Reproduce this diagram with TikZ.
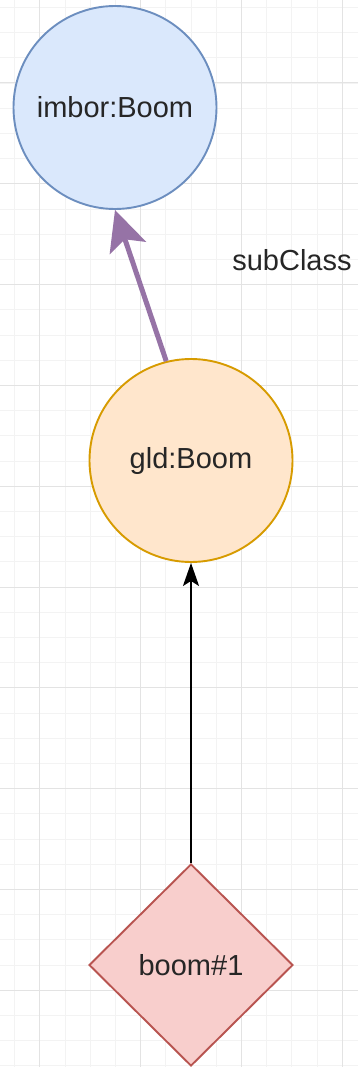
\documentclass[tikz,border=0pt]{standalone}
\usepackage{fontspec}
\setmainfont{Liberation Sans}
\usetikzlibrary{shapes.geometric,arrows.meta}
\definecolor{gridminor}{HTML}{F3F3F3}
\definecolor{gridmajor}{HTML}{E3E3E3}
\definecolor{bluefill}{HTML}{DAE8FC}
\definecolor{bluedraw}{HTML}{6C8EBF}
\definecolor{orangefill}{HTML}{FFE6CC}
\definecolor{orangedraw}{HTML}{D79B00}
\definecolor{redfill}{HTML}{F8CECC}
\definecolor{reddraw}{HTML}{B85450}
\definecolor{purpleline}{HTML}{9673A6}
\definecolor{txt}{HTML}{262626}
\tikzset{
  lbl/.style={font=\fontsize{29}{34}\selectfont, text=txt},
  classnode/.style={circle, minimum size=203pt, inner sep=0pt, line width=1.9pt, lbl},
  instnode/.style={diamond, aspect=1, minimum width=204pt, minimum height=202pt, inner sep=0pt, line width=1.9pt, lbl},
  subarrow/.style={draw=purpleline, line width=5pt, -{Stealth[length=40pt, width=38pt, inset=9pt]}},
  typearrow/.style={draw=black, line width=2pt, -{Stealth[length=23pt, width=16pt, inset=5pt]}},
}
\begin{document}
\begin{tikzpicture}[x=1pt, y=-1pt]
\useasboundingbox (0,0) rectangle (358,1067);
\fill[white] (0,0) rectangle (358,1067);
% minor grid
\foreach \k in {-1,...,13} {
  \draw[gridminor, line width=0.8pt] ({39.7+25.2*\k},0) -- ({39.7+25.2*\k},1067);
}
\foreach \k in {-3,...,40} {
  \draw[gridminor, line width=0.8pt] (0,{83+25.2*\k}) -- (358,{83+25.2*\k});
}
% major grid
\foreach \k in {0,...,3} {
  \draw[gridmajor, line width=1pt] ({39.7+100.8*\k},0) -- ({39.7+100.8*\k},1067);
}
\foreach \k in {0,...,9} {
  \draw[gridmajor, line width=1pt] (0,{83+100.8*\k}) -- (358,{83+100.8*\k});
}
% nodes
\node[classnode, fill=bluefill, draw=bluedraw] (imbor) at (115,107.5) {imbor:Boom};
\node[classnode, fill=orangefill, draw=orangedraw] (gld) at (191,460.5) {gld:Boom};
\node[instnode, fill=redfill, draw=reddraw] (boom) at (191,965) {boom\#1};
\node[lbl] (sub) at (292,260) {subClass};
% connectors
\draw[subarrow] (gld.104) -- (imbor.south);
\draw[typearrow] (boom.north) -- (gld.south);
\end{tikzpicture}
\end{document}
